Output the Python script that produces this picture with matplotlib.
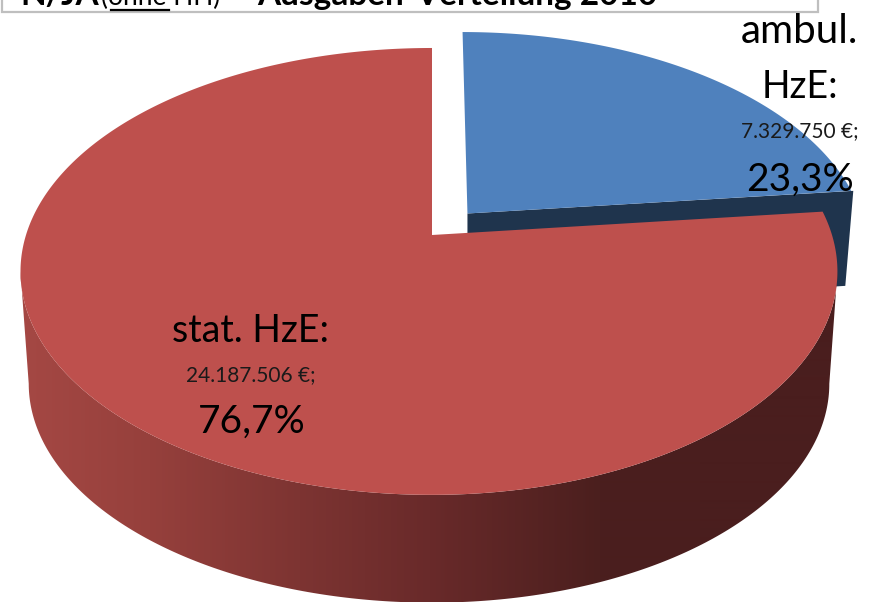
#Ausgaben-Verteilung als 3D Torte, die Perspektive wird von Hand gerechnet

import matplotlib
matplotlib.use('Agg')
import matplotlib.pyplot as plt
from matplotlib.patches import Polygon, Rectangle
import numpy as np

plt.rcParams['font.family'] = ['Lato', 'DejaVu Sans']

betraege = [7329750, 24187506]
namen = ['ambul.', 'HzE:', 'stat. HzE:']
betrag_text = ['7.329.750 €;', '24.187.506 €;']
prozent_text = ['23,3%', '76,7%']

rot = '#BE504D'
blau = '#4F81BD'
blau_dunkel = '#1F344D'

# Farbverlauf der roten Seitenwand (Pixel x -> Farbe)
verlauf_x = [20, 150, 300, 430, 600, 700, 840]
verlauf_r = [165, 150, 125, 105, 75, 74, 74]
verlauf_g = [72, 64, 52, 42, 31, 30, 30]
verlauf_b = [68, 60, 50, 42, 30, 30, 30]

W, H = 873, 602
KX, KY = 432, 235
K = 0.163
A_L, A_R, B = 406, 400, 217.5


def proj(u, v, y0=KY, s=1.0):
    u = np.asarray(u, dtype=float)
    v = np.asarray(v, dtype=float)
    d = 1 + K * v
    a = np.where(u < 0, A_L, A_R)
    return KX + s * a * u / d, y0 - s * B * v / d


def punkte(t1, t2, n=300, du=0.0, dv=0.0, y0=KY, s=1.0, mitte=True):
    t = np.radians(np.linspace(t1, t2, n))
    u = np.cos(t) + du
    v = np.sin(t) + dv
    x, y = proj(u, v, y0, s)
    if mitte:
        mx, my = proj(du, dv, y0, s)
        x = np.r_[mx, x]
        y = np.r_[my, y]
    return np.c_[x, y]


fig = plt.figure(figsize=(W / 100, H / 100), dpi=100)
ax = fig.add_axes([0, 0, 1, 1])

anteil = np.array(betraege) / sum(betraege)
ende_blau = 90 - 360 * anteil[0]
mitte_blau = np.radians((90 + ende_blau) / 2)
du = 0.135 * np.cos(mitte_blau)
dv = 0.135 * np.sin(mitte_blau)

# Rahmen vom Titel, oben abgeschnitten
ax.add_patch(Rectangle((2, -10), 816, 22, fc='white', ec='#BFBFBF', lw=1.6, zorder=1))
ax.text(20, 5, 'N/JA', fontsize=24, fontweight='bold', va='baseline')
ax.text(101, 5, '(ohne HH)', fontsize=19, va='baseline')
ax.plot([111, 169], [9.5, 9.5], color='black', lw=1.6, zorder=2)
ax.text(257, 5, 'Ausgaben-Verteilung 2010', fontsize=24, fontweight='bold', va='baseline')

# blaues Stueck: Schnittflaeche zuerst, dann Deckel
ox, oy = proj(du, dv)
rx, ry = proj(np.cos(np.radians(ende_blau)) + du, np.sin(np.radians(ende_blau)) + dv)
ax.add_patch(Polygon([[ox, oy], [rx + 2, ry], [rx - 6, ry + 95], [ox, oy + 95]], fc=blau_dunkel, ec='none', zorder=1))
ax.add_patch(Polygon(punkte(ende_blau, 90, du=du, dv=dv), fc=blau, ec='none', zorder=2))

# rote Seitenwand: Verlauf als Bild, auf die Wandform beschnitten
t_rand = np.degrees(np.arcsin(-K))
oben = punkte(180 - t_rand, 360 + t_rand, n=240, mitte=False)
unten = punkte(180 - t_rand, 360 + t_rand, n=240, y0=348, s=0.98, mitte=False)
wand = Polygon(np.r_[oben, unten[::-1]], fc='none', ec='none', transform=ax.transData, zorder=3)
ax.add_patch(wand)
spalten = np.arange(W) + 0.5
verlauf = np.stack([np.interp(spalten, verlauf_x, verlauf_r),
                    np.interp(spalten, verlauf_x, verlauf_g),
                    np.interp(spalten, verlauf_x, verlauf_b)], axis=-1)[None, :, :] / 255
bild = ax.imshow(verlauf, extent=(0, W, H, 0), aspect='auto', zorder=3, interpolation='bilinear')
bild.set_clip_path(wand)

# roter Deckel
ax.add_patch(Polygon(punkte(90, 360 + ende_blau, n=600), fc=rot, ec='none', zorder=4))

# Beschriftung
tx = dict(ha='center', va='baseline', zorder=5)
ax.text(799, 43, namen[0], fontsize=29, **tx)
ax.text(800, 98, namen[1], fontsize=27, **tx)
ax.text(800, 137, betrag_text[0], fontsize=15, color='#1a1a1a', **tx)
ax.text(800, 191, prozent_text[0], fontsize=28, **tx)
ax.text(251, 342, namen[2], fontsize=27, **tx)
ax.text(251, 381, betrag_text[1], fontsize=15, color='#1a1a1a', **tx)
ax.text(252, 433, prozent_text[1], fontsize=28, **tx)

ax.set_xlim(0, W)
ax.set_ylim(H, 0)
ax.axis('off')

plt.savefig('out.png', dpi=100)
